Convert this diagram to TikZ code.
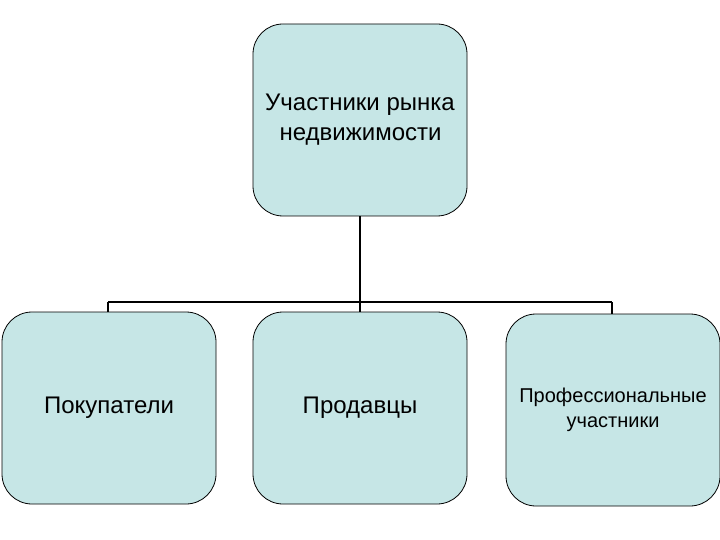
\documentclass[tikz,border=0pt]{standalone}
\usepackage{fontspec}
\setmainfont{Liberation Sans}
\definecolor{boxfill}{HTML}{C6E6E6}
\begin{document}
\begin{tikzpicture}[x=1pt,y=-1pt,
  box/.style={draw=black,line width=0.8pt,fill=boxfill,rounded corners=30pt,minimum width=214pt,minimum height=192pt,align=center,font=\fontsize{24}{30}\selectfont,inner sep=0pt}]
\useasboundingbox (0,0) rectangle (720,540);
\node[box] (top) at (360,120) {};
\node[font=\fontsize{24}{30}\selectfont,align=left] (tt) at (360,120) {Участники рынка\\\hspace{0.6em}недвижимости};
\node[box] (b1) at (109,408) {Покупатели};
\node[box] (b2) at (360,408) {Продавцы};
\node[box,font=\fontsize{20}{25}\selectfont] (b3) at (613,410) {Профессиональные\\участники};
\coordinate (j) at (360,302);
\coordinate (j1) at (108,302);
\coordinate (j3) at (612,302);
\draw[line width=2pt] (top.south) -- (j);
\draw[line width=1.5pt] (j1) -- (j3);
\draw[line width=1.5pt] (j1) -- (b1.north -| j1);
\draw[line width=1.5pt] (j) -- (b2.north);
\draw[line width=1.5pt] (j3) -- (b3.north -| j3);
\end{tikzpicture}
\end{document}
